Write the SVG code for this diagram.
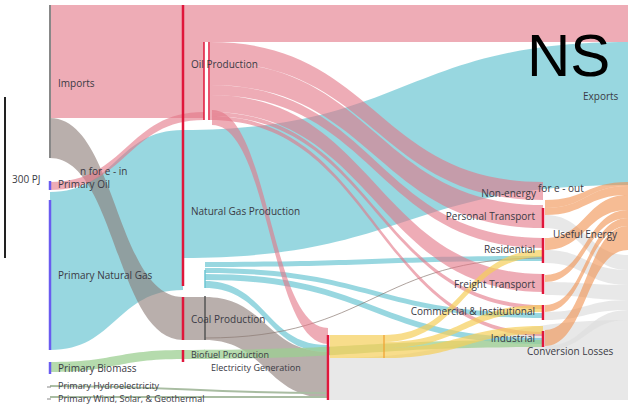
<svg xmlns="http://www.w3.org/2000/svg" width="628" height="409" viewBox="0 0 628 409">
<style>
.t{font-family:"Open Sans","Liberation Sans",sans-serif;font-size:10px;fill:#3a3a44}
.s{font-size:9px}
.e{text-anchor:end}
.pk{fill:#e27585;fill-opacity:.6}
.tl{fill:#6cc6d3;fill-opacity:.7}
.br{fill:#8b7a74;fill-opacity:.6}
.gr{fill:#9ccf92;fill-opacity:.75}
.yl{fill:#f5cf5a;fill-opacity:.7}
.or{fill:#f0904c;fill-opacity:.6}
.lg{fill:#dedede;fill-opacity:.7}
.red{stroke:#e0163b;stroke-width:2.5;fill:none}
.pur{stroke:#6a5cf0;stroke-width:2.5;fill:none}
</style>
<rect width="628" height="409" fill="#fff"/>
<g id="connectors">
  <path class="lg" d="M330 358 C479 358 479 320 628 320 L628 400 C479 400 479 400 330 400 Z"/>
  <path class="lg" d="M545 215 C586 215 586 255 628 255 L628 270 C586 270 586 228 545 228 Z"/>
  <path class="lg" d="M545 250 C586 250 586 270 628 270 L628 285 C586 285 586 263 545 263 Z"/>
  <path class="lg" d="M545 282 C586 282 586 285 628 285 L628 300 C586 300 586 295 545 295 Z"/>
  <path class="lg" d="M545 312 C586 312 586 300 628 300 L628 310 C586 310 586 320 545 320 Z"/>
  <path class="lg" d="M545 346 C586 346 586 310 628 310 L628 320 C586 320 586 350 545 350 Z"/>
  <path class="pk" d="M50 5 H628 V42 H204 V118 H50 Z"/>
  <path class="tl" d="M50 192 C116 192 116 130 183 130 L183 290 C116 290 116 350 50 350 Z"/>
  <path class="tl" d="M183 130 C405 130 405 42 628 42 L628 185 C405 185 405 258 183 258 Z"/>
  <path class="tl" d="M205 262 C374 262 374 256 543 256 L543 261 C374 261 374 267 205 267 Z"/>
  <path class="tl" d="M205 268 C374 268 374 313 543 313 L543 318 C374 318 374 273 205 273 Z"/>
  <path class="tl" d="M205 274 C374 274 374 338 543 338 L543 344 C374 344 374 280 205 280 Z"/>
  <path class="tl" d="M205 281 C266 281 266 345 328 345 L328 352 C266 352 266 288 205 288 Z"/>
  <path class="br" d="M50 118 C116 118 116 297 183 297 L183 340 C116 340 116 158 50 158 Z"/>
  <path class="br" d="M183 297 H205 V340 H183 Z"/>
  <path class="br" d="M205 297 C266 297 266 352 328 352 L328 398 C266 398 266 340 205 340 Z"/>
  <path d="M205 338 C374 338 374 258 543 258" fill="none" stroke="#8b7a74" stroke-width="1" stroke-opacity=".7"/>
  <path class="pk" d="M50 182 C127 182 127 112 204 112 L204 120 C127 120 127 190 50 190 Z"/>
  <path class="pk" d="M210 42 C376 42 376 182 543 182 L543 200 C376 200 376 62 210 62 Z"/>
  <path class="pk" d="M210 62 C376 62 376 205 543 205 L543 228 C376 228 376 85 210 85 Z"/>
  <path class="pk" d="M210 85 C376 85 376 238 543 238 L543 248 C376 248 376 95 210 95 Z"/>
  <path class="pk" d="M210 95 C376 95 376 274 543 274 L543 292 C376 292 376 112 210 112 Z"/>
  <path class="pk" d="M210 112 C376 112 376 305 543 305 L543 309 C376 309 376 116 210 116 Z"/>
  <path class="pk" d="M210 116 C376 116 376 332 543 332 L543 336 C376 336 376 120 210 120 Z"/>
  <path class="pk" d="M212 110 C270 110 270 328 328 328 L328 344 C270 344 270 125 212 125 Z"/>
  <path class="gr" d="M50 362 C116 362 116 350 183 350 L183 359 C116 359 116 372 50 372 Z"/>
  <path class="gr" d="M183 350 C363 350 363 340 543 340 L543 347 C363 347 363 359 183 359 Z"/>
  <path d="M50 386 C189 386 189 393 328 393 M50 397 C189 397 189 397 328 397" fill="none" stroke="#a9bda2" stroke-width="2"/>
  <path class="yl" d="M330 335 H384 V358 H330 Z"/>
  <path class="yl" d="M384 335 C463 335 463 250 543 250 L543 257 C463 257 463 342 384 342 Z"/>
  <path class="yl" d="M384 342 C463 342 463 305 543 305 L543 312 C463 312 463 348 384 348 Z"/>
  <path class="yl" d="M384 348 C463 348 463 326 543 326 L543 334 C463 334 463 358 384 358 Z"/>
  <line x1="384" y1="335" x2="384" y2="358" stroke="#f0a030" stroke-width="1.2"/>
  <path class="or" d="M545 200 C586 200 586 182 628 182 L628 186 C586 186 586 208 545 208 Z"/>
  <path class="or" d="M545 208 C586 208 586 186 628 186 L628 195 C586 195 586 215 545 215 Z"/>
  <path class="or" d="M545 238 C586 238 586 195 628 195 L628 210 C586 210 586 250 545 250 Z"/>
  <path class="or" d="M545 275 C586 275 586 210 628 210 L628 218 C586 218 586 282 545 282 Z"/>
  <path class="or" d="M545 305 C586 305 586 218 628 218 L628 226 C586 226 586 312 545 312 Z"/>
  <path class="or" d="M545 330 C586 330 586 226 628 226 L628 250 C586 250 586 346 545 346 Z"/>
</g>
<line x1="5" y1="97" x2="5" y2="258" stroke="#222" stroke-width="2"/>
<text class="t" x="12" y="183" font-size="9">300 PJ</text>
<g id="imports"><line x1="50" y1="5" x2="50" y2="158" stroke="#888" stroke-width="2"/><text class="t" x="58" y="87">Imports</text><text class="t" x="80" y="175">n for e - in</text></g>
<g id="primary-oil"><line class="pur" x1="50" y1="181" x2="50" y2="190" stroke="#c04a8a"/><text class="t" x="58" y="188">Primary Oil</text></g>
<g id="primary-gas"><line class="pur" x1="50" y1="200" x2="50" y2="350"/><text class="t" x="58" y="279">Primary Natural Gas</text></g>
<g id="primary-biomass"><line class="pur" x1="50" y1="362" x2="50" y2="374"/><text class="t" x="58" y="372">Primary Biomass</text></g>
<g id="primary-hydro"><line x1="47" y1="387" x2="51" y2="387" stroke="#888"/><text class="t s" x="58" y="389">Primary Hydroelectricity</text></g>
<g id="primary-wind"><line x1="47" y1="399" x2="51" y2="399" stroke="#888"/><text class="t s" x="58" y="402">Primary Wind, Solar, &amp; Geothermal</text></g>
<g id="oil-production"><line class="red" x1="183" y1="5" x2="183" y2="42"/><line x1="204" y1="42" x2="204" y2="120" stroke="#e0163b" stroke-width="1.5"/><line x1="209" y1="42" x2="209" y2="120" stroke="#e0163b" stroke-width="1.5"/><line x1="206.5" y1="42" x2="206.5" y2="120" stroke="#fff" stroke-width="2"/><text class="t" x="191" y="68">Oil Production</text></g>
<g id="gas-production"><line class="red" x1="183" y1="42" x2="183" y2="286"/><line x1="205" y1="270" x2="205" y2="288" stroke="#6cc6d3" stroke-width="1.5"/><text class="t" x="191" y="215">Natural Gas Production</text></g>
<g id="coal-production"><line class="red" x1="183" y1="297" x2="183" y2="340"/><line x1="205" y1="296" x2="205" y2="340" stroke="#555" stroke-width="1.5"/><text class="t" x="191" y="323">Coal Production</text></g>
<g id="biofuel-production"><line class="red" x1="183" y1="350" x2="183" y2="362"/><text class="t s" x="191" y="358">Biofuel Production</text></g>
<g id="electricity-generation"><line class="red" x1="328" y1="335" x2="328" y2="400"/><text class="t s" x="211" y="371">Electricity Generation</text></g>
<g id="exports"><text class="t" x="583" y="100">Exports</text></g>
<g id="non-energy"><text class="t e" x="536" y="197">Non-energy</text><text class="t" x="538" y="192">for e - out</text></g>
<g id="personal-transport"><line class="red" x1="543" y1="208" x2="543" y2="228"/><text class="t e" x="535" y="220">Personal Transport</text></g>
<g id="residential"><line class="red" x1="543" y1="238" x2="543" y2="263"/><text class="t e" x="535" y="253">Residential</text></g>
<g id="freight-transport"><line class="red" x1="543" y1="274" x2="543" y2="294"/><text class="t e" x="535" y="288">Freight Transport</text></g>
<g id="commercial"><line class="red" x1="543" y1="305" x2="543" y2="320"/><text class="t e" x="535" y="315">Commercial &amp; Institutional</text></g>
<g id="industrial"><line class="red" x1="543" y1="331" x2="543" y2="347"/><text class="t e" x="535" y="342">Industrial</text></g>
<g id="useful-energy"><text class="t" x="553" y="238">Useful Energy</text></g>
<g id="conversion-losses"><text class="t" x="527" y="355">Conversion Losses</text></g>
<text x="527" y="76" font-family="Liberation Sans, Arial, sans-serif" font-size="60" fill="#000">NS</text>
</svg>
